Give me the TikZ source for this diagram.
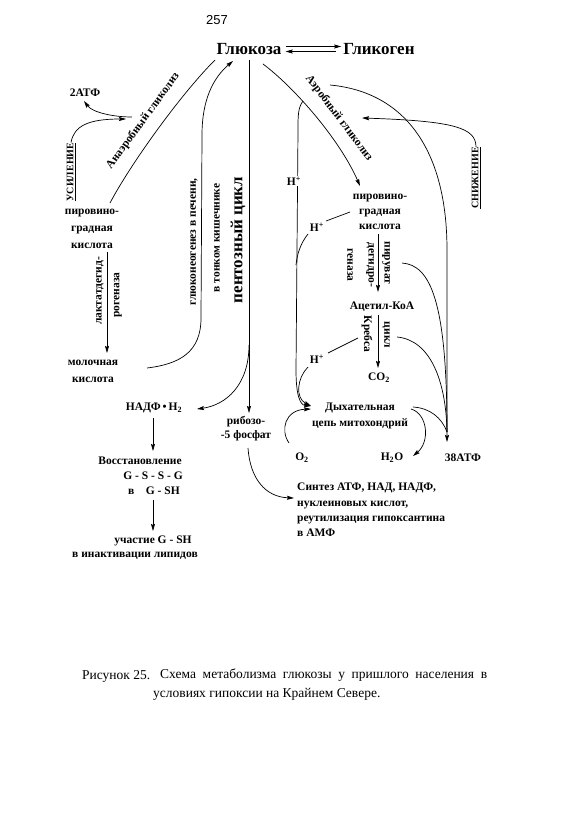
\documentclass[tikz,border=0pt]{standalone}
\usepackage{fontspec}
\setmainfont{Liberation Serif}
\newfontfamily\sansf{Liberation Sans}
\usetikzlibrary{arrows.meta}
\begin{document}
\begin{tikzpicture}[x=1pt,y=-1pt,
  lab/.style={font=\bfseries\fontsize{11.5}{15}\selectfont, inner sep=0pt, align=center},
  small/.style={font=\bfseries\fontsize{10}{12}\selectfont, inner sep=0pt},
  big/.style={font=\bfseries\fontsize{17}{20}\selectfont, inner sep=0pt},
  pent/.style={font=\bfseries\fontsize{17}{20}\selectfont, inner sep=0pt},
  captext/.style={font=\fontsize{13.5}{16}\selectfont, inner sep=0pt},
  arr/.style={-{Stealth[length=7pt,width=4pt,inset=1pt]}, line width=0.7pt},
  ln/.style={line width=0.7pt}]
\useasboundingbox (0,0) rectangle (562,816);
\fill[white] (0,0) rectangle (562,816);

% top
\node[font=\sansf\fontsize{13}{15}\selectfont, inner sep=0pt] (p257) at (217,20) {257};
\node[big] (glu) at (249,49) {Глюкоза};
\node[big] (glyk) at (379,49) {Гликоген};
\draw[arr] ([xshift=4pt,yshift=2.5pt]glu.east) -- ([xshift=-2pt,yshift=2.5pt]glyk.west);
\draw[arr] ([xshift=-7pt,yshift=-2.5pt]glyk.west) -- ([xshift=4pt,yshift=-2.5pt]glu.east);

% left column
\node[lab] (atp2) at (85,93) {2АТФ};
\node[small,rotate=90] (usil) at (71,172) {\underline{УСИЛЕНИЕ}};
\node[lab,font=\bfseries\fontsize{11.5}{17}\selectfont] (pyrL) at (92,229) {пировино-\\градная\\кислота};
\node[lab,font=\bfseries\fontsize{11.5}{17}\selectfont] (lact) at (93,371) {молочная\\кислота};
\node[lab,rotate=90] (ldh1) at (100,291) {лактатдегид-};
\node[lab,rotate=90] (ldh2) at (118,295) {рогеназа};
\node[lab,rotate=54] (anaer) at (143,121) {Анаэробный гликолиз};
\node[lab,rotate=90] (gng1) at (194,242) {глюконеогенез в печени,};
\node[lab,rotate=90] (gng2) at (217,238) {в тонком кишечнике};
\node[pent,rotate=90] (pent) at (238,240) {пентозный цикл};

\coordinate (a2s) at (132,117);
\draw[arr] (a2s) .. controls (112,117) and (92,112) .. (84,101);
\coordinate (usilE) at (126,119);
\draw[arr] (usil.east) .. controls (74,126) and (88,119) .. (usilE);
\coordinate (anB) at (110,203);
\coordinate (anT) at (215,60);
\draw[ln] (anB) .. controls (130,165) and (180,95) .. (anT);
\coordinate (ldhT) at (107,252);
\coordinate (ldhB) at (107,353);
\draw[arr] (ldhT) -- (ldhB);
\coordinate (gngS) at (147,368);
\coordinate (gngE) at (233,61);
\draw[arr] (gngS) .. controls (180,364) and (201,352) .. (201,318) -- (202,135) .. controls (202,100) and (213,78) .. (gngE);

% pentose branch
\node[lab,font=\bfseries\fontsize{11.5}{14}\selectfont] (rib) at (246,429) {рибозо-\\-5 фосфат};
\coordinate (pT) at (249,60);
\coordinate (pB) at (249,413);
\draw[arr] (pT) -- (pB);
\node[lab] (nadph) at (154,408) {НАДФ\,•\,H\textsubscript{2}};
\coordinate (pb) at (249,345);
\coordinate (nadIn) at (197,409);
\draw[arr] (pb) .. controls (249,385) and (226,405) .. (nadIn);
\node[lab] (vost) at (140,461) {Восстановление};
\node[lab] (gssg) at (153,476) {G - S - S - G};
\node[lab] (gsh) at (154,491) {в\quad G - SH};
\node[lab] (uch) at (153,541) {участие G - SH};
\node[lab] (inakt) at (135,556) {в инактивации липидов};
\coordinate (n1) at (153,418); \coordinate (n2) at (153,451);
\draw[arr] (n1) -- (n2);
\coordinate (n3) at (153,500); \coordinate (n4) at (153,531);
\draw[arr] (n3) -- (n4);
\node[lab,align=left,anchor=north west,font=\bfseries\fontsize{11.5}{15.3}\selectfont] (synth) at (297,483) {Синтез АТФ, НАД, НАДФ,\\нуклеиновых кислот,\\реутилизация гипоксантина\\в АМФ};
\coordinate (rS) at (248,448);
\coordinate (rE) at (294,498);
\draw[arr] (rS) .. controls (250,478) and (265,497) .. (rE);

% right column
\node[lab,rotate=-53] (aer) at (339,118) {Аэробный гликолиз};
\node[small,rotate=90] (snizh) at (476,178) {\underline{СНИЖЕНИЕ}};
\node[lab] (pyrR) at (380,212) {пировино-\\градная\\кислота};
\node[lab,rotate=-90] (pdh1) at (386,263) {пируват};
\node[lab,rotate=-90] (pdh2) at (370,265) {дегидро-};
\node[lab,rotate=-90] (pdh3) at (350,265) {геназа};
\node[lab] (acet) at (382,307) {Ацетил-КоА};
\node[lab,rotate=-90] (kr1) at (386,335) {цикл};
\node[lab,rotate=-90] (kr2) at (367,334) {Кребса};
\node[lab] (co2) at (379,378) {CO\textsubscript{2}};
\node[lab,font=\bfseries\fontsize{11.5}{16}\selectfont] (dyx) at (360,416) {Дыхательная\\цепь митохондрий};
\node[lab] (o2) at (302,458) {O\textsubscript{2}};
\node[lab] (h2o) at (392,458) {H\textsubscript{2}O};
\node[lab] (atp38) at (463,458) {38АТФ};

\coordinate (aerS) at (263,64);
\coordinate (aerE) at (360,186);
\draw[arr] (aerS) .. controls (295,88) and (340,140) .. (aerE);
\coordinate (arcS) at (330,85);
\coordinate (atpIn) at (447,442);
\draw[arr] (arcS) .. controls (405,92) and (447,150) .. (447,250) -- (atpIn);
\coordinate (snE) at (362,118);
\draw[arr] (snizh.east) .. controls (476,128) and (455,121) .. (snE);

\coordinate (hS) at (303,101);
\coordinate (dIn) at (311,406);
\draw[arr] (hS) .. controls (298,108) and (298,115) .. (298,130) -- (296,370) .. controls (296,395) and (300,405) .. (dIn);
\node[lab,fill=white,inner sep=1pt] (hp1) at (294,181) {H\textsuperscript{+}};
\node[lab] (hp2) at (317,227) {H\textsuperscript{+}};
\coordinate (h2a) at (350,212); \coordinate (h2b) at (326,221);
\draw[ln] (h2a) -- (h2b);
\coordinate (h2c) at (308,234); \coordinate (h2d) at (296,265);
\draw[ln] (h2c) .. controls (300,244) and (297,255) .. (h2d);
\node[lab] (hp3) at (317,359) {H\textsuperscript{+}};
\coordinate (h3a) at (358,338); \coordinate (h3b) at (328,353);
\draw[ln] (h3a) -- (h3b);
\coordinate (h3c) at (308,367);
\draw[arr] (h3c) .. controls (297,378) and (295,398) .. (dIn);
\coordinate (o2s) at (289,443); \coordinate (o2e) at (311,409);
\draw[arr] (o2s) .. controls (280,430) and (285,410) .. (o2e);
\coordinate (wS) at (411,409); \coordinate (wE) at (413,456);
\draw[arr] (wS) .. controls (428,414) and (430,442) .. (wE);
\coordinate (d38) at (413,407);
\draw[ln] (d38) .. controls (430,408) and (442,418) .. (447,432);
\coordinate (pv) at (402,263);
\draw[ln] (pv) .. controls (430,265) and (447,300) .. (447,432);
\coordinate (kc) at (397,337);
\draw[ln] (kc) .. controls (430,340) and (446,380) .. (447,432);
\coordinate (q1) at (378,234); \coordinate (q2) at (378,292);
\draw[arr] (q1) -- (q2);
\coordinate (q3) at (378,315); \coordinate (q4) at (378,368);
\draw[arr] (q3) -- (q4);

% caption
\node[captext,anchor=base west] (figno) at (82,679) {Рисунок 25.};
\node[captext,anchor=base west] (cap1) at (160,678) {\makebox[327pt][s]{Схема метаболизма глюкозы у пришлого населения в}};
\node[captext,anchor=base west] (cap2) at (153,697) {условиях гипоксии на Крайнем Севере.};
\end{tikzpicture}
\end{document}
